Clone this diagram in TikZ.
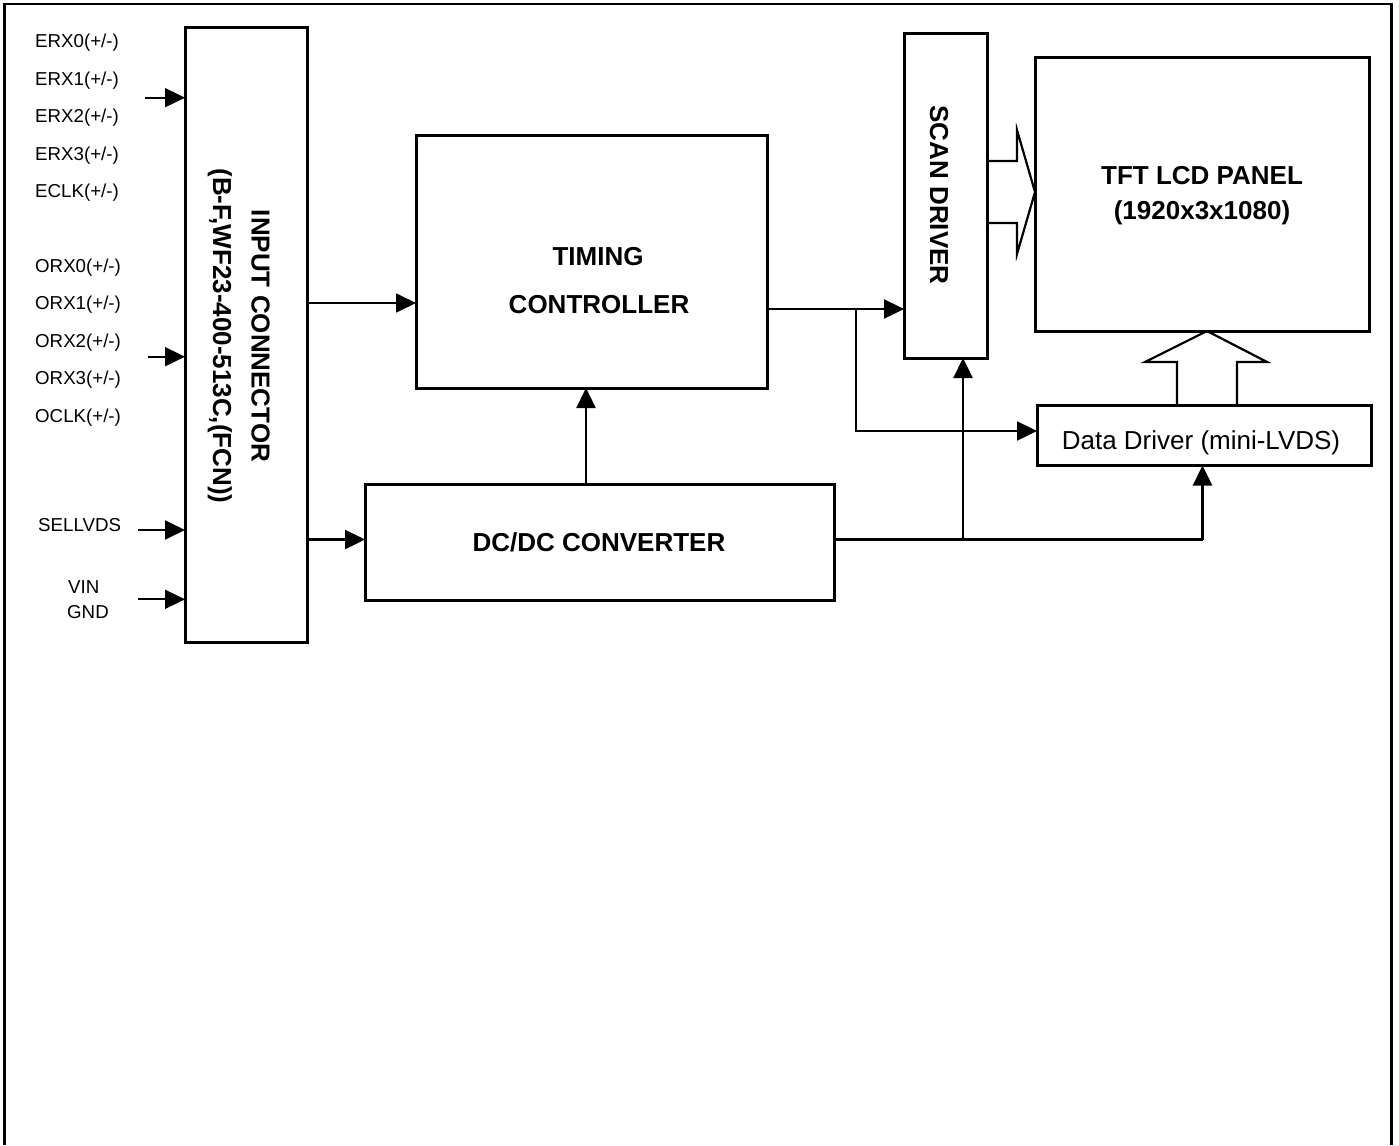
\documentclass[tikz,border=0pt]{standalone}
\usepackage{fontspec}
\setmainfont{Liberation Sans}
\usetikzlibrary{arrows.meta}
\begin{document}
\begin{tikzpicture}[x=1pt,y=-1pt,
  box/.style={draw, line width=3pt, inner sep=0pt, outer sep=0pt},
  bigtext/.style={font=\fontsize{26}{30}\selectfont\bfseries, inner sep=0pt, anchor=base},
  midtext/.style={font=\fontsize{26}{30}\selectfont, inner sep=0pt, anchor=base},
  sig/.style={font=\fontsize{18.7}{22}\selectfont, inner sep=0pt, anchor=base west},
  conn/.style={line width=2.4pt, -{Triangle[length=20pt,width=19pt]}},
  inarr/.style={line width=1.8pt, -{Triangle[length=20pt,width=19pt]}},
  hollow/.style={draw, line width=2.2pt, line join=miter}
]
\useasboundingbox (0,0) rectangle (1399,1145);
% outer frame (open at the bottom)
\draw[line width=2.4pt] (4.3,1145) -- (4.3,4.3) -- (1391.5,4.3) -- (1391.5,1145);

% boxes
\node[box, minimum width=122pt, minimum height=614pt] (inp) at (246,335) {};
\node[box, minimum width=351pt, minimum height=253pt] (tim) at (591.5,261.5) {};
\node[box, minimum width=469pt, minimum height=116pt] (dcdc) at (599.5,542) {};
\node[box, minimum width=83pt, minimum height=324pt] (scan) at (945.5,196) {};
\node[box, minimum width=334pt, minimum height=273pt] (tft) at (1202,194.5) {};
\node[box, minimum width=334pt, minimum height=60pt] (data) at (1204,435.5) {};

% box texts
\node[bigtext, rotate=-90] (inpt1) at (251.5,336) {INPUT CONNECTOR};
\node[bigtext, rotate=-90] (inpt2) at (213,336) {(B-F,WF23-400-513C,(FCN))};
\node[bigtext] (timt1) at (598,265.3) {TIMING};
\node[bigtext] (timt2) at (599,313.3) {CONTROLLER};
\node[bigtext] (dcdct) at (599,551.3) {DC/DC CONVERTER};
\node[bigtext, rotate=-90] (scant) at (930,195) {SCAN DRIVER};
\node[bigtext] (tftt1) at (1202,184.3) {TFT LCD PANEL};
\node[bigtext] (tftt2) at (1202,219.3) {(1920x3x1080)};
\node[midtext] (datat) at (1201,449.3) {Data Driver (mini-LVDS)};

% signal labels
\node[sig] (l1) at (35,47.7) {ERX0(+/-)};
\node[sig] (l2) at (35,85.2) {ERX1(+/-)};
\node[sig] (l3) at (35,122.5) {ERX2(+/-)};
\node[sig] (l4) at (35,160.2) {ERX3(+/-)};
\node[sig] (l5) at (35,197.7) {ECLK(+/-)};
\node[sig] (l6) at (35,272.7) {ORX0(+/-)};
\node[sig] (l7) at (35,309.2) {ORX1(+/-)};
\node[sig] (l8) at (35,347.3) {ORX2(+/-)};
\node[sig] (l9) at (35,384.7) {ORX3(+/-)};
\node[sig] (l10) at (35,422.2) {OCLK(+/-)};
\node[sig] (l11) at (38,531.7) {SELLVDS};
\node[sig] (l12) at (68,593.7) {VIN};
\node[sig] (l13) at (67,618.7) {GND};

% input arrows
\coordinate (a1) at (145,97.7);
\coordinate (a2) at (148,356.7);
\coordinate (a3) at (138,530);
\coordinate (a4) at (138,599.3);
\draw[inarr] (a1) -- (inp.west |- a1);
\draw[inarr] (a2) -- (inp.west |- a2);
\draw[inarr] (a3) -- (inp.west |- a3);
\draw[inarr] (a4) -- (inp.west |- a4);

% internal connectors
\draw[conn, line width=1.8pt] (inp.east |- 0,303) -- (tim.west |- 0,303);
\draw[conn] (inp.east |- 0,539.5) -- (dcdc.west |- 0,539.5);
\draw[conn] (dcdc.north -| 586,0) -- (tim.south -| 586,0);
\coordinate (j1) at (856,309);
\draw[conn] (tim.east |- j1) -- (scan.west |- j1);
\draw[conn] (j1) -- (856,431) -- (data.west |- 0,431);
\coordinate (j2) at (963,539.5);
\draw[line width=2.4pt] (dcdc.east |- j2) -- (j2) -- (1202.5,539.5);
\draw[conn] (1202.5,539.5) -- (data.south -| 1202.5,0);
\draw[conn] (j2) -- (scan.south -| j2);

% hollow arrows
\draw[hollow] (scan.east |- 0,161) -- (1017,161) -- (1017,130) -- (tft.west |- 0,192) -- (1017,254) -- (1017,223) -- (scan.east |- 0,223);
\draw[hollow] (data.north -| 1177,0) -- (1177,362) -- (1145,362) -- (tft.south -| 1207,0) -- (1267,362) -- (1237,362) -- (data.north -| 1237,0);
\end{tikzpicture}
\end{document}
